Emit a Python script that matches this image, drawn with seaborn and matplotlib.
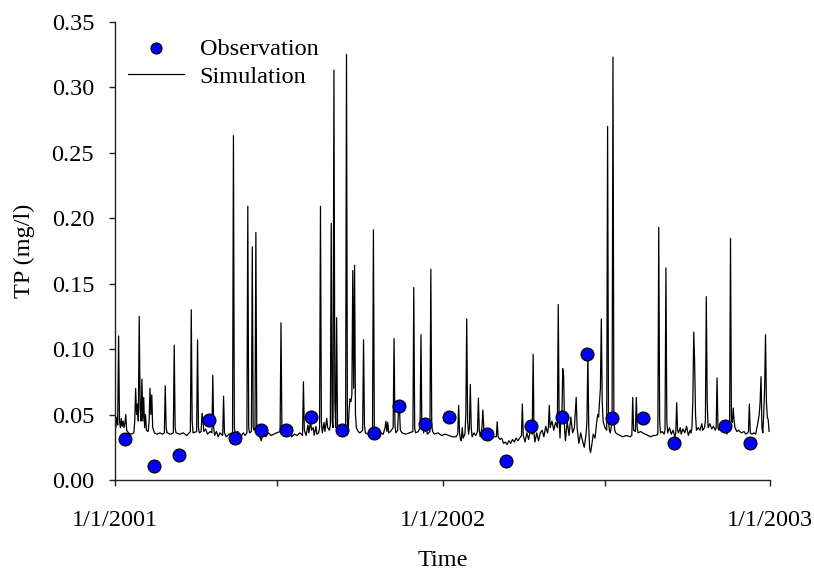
import matplotlib
matplotlib.use("Agg")
import matplotlib.pyplot as plt
import matplotlib.dates as mdates
from matplotlib.ticker import FuncFormatter, FixedLocator
import seaborn as sns
import pandas as pd

# ---------------- data (day offsets from 1/1/2001) ----------------
start = pd.Timestamp("2001-01-01")

obs_days = [11.5, 43, 71, 105, 134, 163, 190.6, 218.4, 253, 288.6, 316.5, 345,
            372.3, 414.6, 435.4, 463.6, 498.5, 526.6, 553.5, 588.5, 623.3, 679.7, 707.7]
obs_vals = [0.031, 0.011, 0.019, 0.046, 0.032, 0.038, 0.038, 0.048, 0.038, 0.036, 0.0565, 0.043,
            0.048, 0.035, 0.0148, 0.041, 0.048, 0.0962, 0.047, 0.047, 0.0285, 0.0415, 0.0285]

sim_days = [
    0, 1, 2, 3, 4, 5, 6, 7, 8, 9, 10, 11, 12, 13, 15, 18, 21, 22, 23, 24,
    25, 26, 27, 28, 29, 30, 31, 32, 33, 34, 35, 37, 38, 39, 40, 41, 42, 44, 47, 50,
    53, 55, 56, 57, 58, 62, 65, 66, 67, 68, 72, 76, 80, 84, 85, 86, 87, 91, 92, 93,
    94, 96, 97, 98, 99, 101, 103, 106, 108, 109, 110, 111, 113, 115, 117, 120, 121, 122, 124, 127,
    131, 132, 133, 134, 137, 140, 143, 145, 147, 148, 149, 150, 152, 153, 154, 155, 156, 157, 158, 159,
    161, 163, 165, 168, 171, 174, 177, 180, 184, 185, 186, 187, 189, 191, 194, 197, 200, 203, 206, 209,
    210, 211, 213, 215, 216, 218, 219, 221, 222, 224, 225, 227, 228, 229, 230, 231, 233, 234, 236, 237,
    239, 240, 241, 242, 243, 244, 245, 246, 247, 248, 249, 252, 255, 257, 258, 259, 260, 261, 262, 263,
    264, 265, 266, 267, 268, 269, 271, 273, 276, 277, 278, 279, 282, 285, 287, 288, 289, 290, 293, 296,
    299, 301, 302, 303, 304, 305, 307, 310, 311, 312, 313, 315, 316, 317, 318, 320, 324, 328, 332, 333,
    334, 335, 338, 340, 341, 342, 343, 344, 345, 346, 347, 348, 351, 352, 353, 354, 356, 360, 364, 368,
    372, 376, 380, 382, 383, 384, 385, 386, 387, 388, 390, 391, 392, 393, 394, 395, 396, 397, 398, 400,
    402, 404, 405, 406, 407, 409, 410, 411, 412, 414, 416, 418, 420, 422, 425, 426, 427, 429, 431, 433,
    435, 437, 439, 441, 443, 445, 447, 449, 451, 453, 454, 455, 457, 459, 461, 463, 464, 465, 466, 467,
    468, 470, 472, 474, 476, 478, 480, 482, 483, 484, 485, 487, 489, 491, 493, 494, 495, 496, 497, 498,
    499, 500, 501, 502, 504, 506, 508, 510, 512, 514, 515, 517, 519, 521, 523, 525, 526, 527, 528, 529,
    530, 531, 533, 535, 537, 538, 539, 540, 541, 542, 543, 544, 546, 548, 549, 550, 551, 552, 553, 554,
    555, 556, 557, 558, 560, 563, 566, 570, 574, 576, 577, 578, 580, 581, 582, 583, 586, 588, 591, 594,
    597, 600, 603, 605, 606, 607, 608, 610, 612, 613, 614, 615, 616, 618, 620, 622, 624, 625, 626, 627,
    628, 630, 631, 633, 635, 637, 639, 641, 642, 643, 644, 645, 646, 647, 648, 650, 652, 654, 655, 657,
    658, 659, 660, 661, 663, 665, 667, 669, 670, 671, 672, 673, 675, 677, 678, 679, 681, 682, 684, 685,
    686, 687, 688, 689, 690, 691, 693, 695, 698, 701, 703, 705, 706, 707, 708, 710, 712, 714, 716, 718,
    719, 720, 721, 722, 723, 724, 725, 726, 727, 728, 729,
]
sim_vals = [
    0.045, 0.040, 0.048, 0.042, 0.110, 0.045, 0.040, 0.047, 0.041, 0.045, 0.040, 0.043, 0.050, 0.038, 0.036, 0.035, 0.036, 0.045, 0.070, 0.050,
    0.058, 0.045, 0.125, 0.055, 0.045, 0.077, 0.045, 0.063, 0.040, 0.050, 0.038, 0.037, 0.045, 0.070, 0.050, 0.065, 0.040, 0.036, 0.035, 0.036,
    0.035, 0.036, 0.072, 0.040, 0.036, 0.035, 0.036, 0.103, 0.040, 0.036, 0.035, 0.036, 0.034, 0.037, 0.130, 0.045, 0.036, 0.037, 0.107, 0.040,
    0.036, 0.037, 0.051, 0.045, 0.037, 0.039, 0.035, 0.037, 0.036, 0.080, 0.040, 0.034, 0.037, 0.033, 0.036, 0.034, 0.064, 0.036, 0.033, 0.035,
    0.036, 0.263, 0.040, 0.036, 0.037, 0.033, 0.036, 0.034, 0.036, 0.209, 0.040, 0.036, 0.037, 0.178, 0.040, 0.038, 0.040, 0.189, 0.042, 0.036,
    0.034, 0.030, 0.035, 0.033, 0.036, 0.034, 0.035, 0.036, 0.037, 0.120, 0.040, 0.036, 0.038, 0.034, 0.036, 0.033, 0.035, 0.034, 0.036, 0.034,
    0.075, 0.038, 0.034, 0.042, 0.036, 0.045, 0.038, 0.040, 0.034, 0.041, 0.035, 0.036, 0.040, 0.209, 0.045, 0.036, 0.044, 0.037, 0.047, 0.040,
    0.038, 0.042, 0.196, 0.045, 0.040, 0.313, 0.060, 0.040, 0.124, 0.040, 0.036, 0.037, 0.036, 0.037, 0.325, 0.045, 0.040, 0.055, 0.062, 0.060,
    0.065, 0.160, 0.070, 0.164, 0.050, 0.040, 0.037, 0.036, 0.038, 0.107, 0.042, 0.036, 0.035, 0.036, 0.037, 0.191, 0.040, 0.036, 0.035, 0.036,
    0.035, 0.040, 0.045, 0.037, 0.044, 0.036, 0.037, 0.040, 0.108, 0.042, 0.036, 0.038, 0.055, 0.056, 0.038, 0.036, 0.035, 0.036, 0.037, 0.147,
    0.040, 0.036, 0.037, 0.040, 0.111, 0.040, 0.045, 0.036, 0.046, 0.037, 0.043, 0.035, 0.037, 0.161, 0.042, 0.037, 0.035, 0.036, 0.034, 0.035,
    0.034, 0.033, 0.033, 0.035, 0.057, 0.036, 0.031, 0.030, 0.040, 0.032, 0.035, 0.050, 0.123, 0.045, 0.035, 0.040, 0.073, 0.040, 0.033, 0.036,
    0.034, 0.037, 0.0625, 0.038, 0.033, 0.040, 0.0535, 0.040, 0.033, 0.036, 0.033, 0.034, 0.032, 0.033, 0.033, 0.0445, 0.033, 0.031, 0.032, 0.028,
    0.029, 0.027, 0.030, 0.028, 0.031, 0.029, 0.032, 0.030, 0.032, 0.034, 0.058, 0.034, 0.029, 0.036, 0.031, 0.038, 0.045, 0.035, 0.096, 0.035,
    0.029, 0.036, 0.030, 0.036, 0.038, 0.033, 0.041, 0.036, 0.040, 0.057, 0.040, 0.045, 0.038, 0.044, 0.040, 0.134, 0.045, 0.032, 0.050, 0.045,
    0.085, 0.080, 0.040, 0.030, 0.045, 0.034, 0.048, 0.036, 0.040, 0.063, 0.040, 0.028, 0.036, 0.030, 0.025, 0.035, 0.045, 0.096, 0.040, 0.024,
    0.021, 0.025, 0.035, 0.032, 0.045, 0.050, 0.048, 0.060, 0.070, 0.123, 0.060, 0.045, 0.040, 0.038, 0.270, 0.045, 0.038, 0.036, 0.040, 0.050,
    0.323, 0.045, 0.038, 0.036, 0.035, 0.034, 0.033, 0.034, 0.033, 0.034, 0.063, 0.038, 0.037, 0.063, 0.040, 0.036, 0.037, 0.036, 0.035, 0.034,
    0.033, 0.034, 0.034, 0.035, 0.193, 0.045, 0.036, 0.037, 0.035, 0.038, 0.162, 0.045, 0.036, 0.040, 0.035, 0.038, 0.033, 0.036, 0.059, 0.038,
    0.036, 0.040, 0.035, 0.039, 0.036, 0.041, 0.034, 0.038, 0.036, 0.040, 0.060, 0.113, 0.090, 0.050, 0.038, 0.040, 0.038, 0.043, 0.038, 0.040,
    0.045, 0.140, 0.060, 0.040, 0.043, 0.039, 0.041, 0.038, 0.040, 0.078, 0.040, 0.038, 0.042, 0.039, 0.045, 0.036, 0.041, 0.035, 0.042, 0.045,
    0.1845, 0.045, 0.044, 0.055, 0.045, 0.040, 0.037, 0.038, 0.036, 0.037, 0.035, 0.036, 0.037, 0.058, 0.036, 0.035, 0.036, 0.035, 0.042, 0.050,
    0.060, 0.079, 0.040, 0.036, 0.050, 0.070, 0.111, 0.060, 0.048, 0.046, 0.037,
]

x_tick_dates = ["2001-01-01", "2002-01-01", "2003-01-01"]
x_minor_dates = ["2001-07-01", "2002-07-01"]
y_ticks = [0.00, 0.05, 0.10, 0.15, 0.20, 0.25, 0.30, 0.35]

# ---------------- build frames ----------------
sim_df = pd.DataFrame({"date": start + pd.to_timedelta(sim_days, unit="D"), "TP": sim_vals})
obs_df = pd.DataFrame({"date": start + pd.to_timedelta(obs_days, unit="D"), "TP": obs_vals})

sns.set_style("ticks")
plt.rcParams["font.family"] = ["Liberation Serif", "DejaVu Serif"]
plt.rcParams["text.color"] = "black"
plt.rcParams["axes.labelcolor"] = "black"
plt.rcParams["xtick.labelcolor"] = "black"
plt.rcParams["ytick.labelcolor"] = "black"
FS = 17.5

fig = plt.figure(figsize=(8.14, 5.74), dpi=100)
ax = fig.add_axes([115 / 814, 1 - 480 / 574, 655 / 814, 458.3 / 574])

sns.lineplot(data=sim_df, x="date", y="TP", ax=ax, color="black", linewidth=0.9,
             estimator=None, sort=False, label="Simulation")
sns.scatterplot(data=obs_df, x="date", y="TP", ax=ax, color="#0000FF", edgecolor="black",
                linewidth=0.9, s=85, zorder=5, label="Observation")

ax.set_xlim(pd.Timestamp(x_tick_dates[0]), pd.Timestamp(x_tick_dates[-1]))
ax.set_ylim(0, 0.35)

major = [mdates.date2num(pd.Timestamp(d)) for d in x_tick_dates]
minor = [mdates.date2num(pd.Timestamp(d)) for d in x_minor_dates]
ax.xaxis.set_major_locator(FixedLocator(major))
ax.xaxis.set_minor_locator(FixedLocator(minor))
ax.xaxis.set_major_formatter(FuncFormatter(
    lambda v, p: (lambda d: f"{d.month}/{d.day}/{d.year}")(mdates.num2date(v))))
ax.set_yticks(y_ticks)
ax.yaxis.set_major_formatter(FuncFormatter(lambda v, p: f"{v:.2f}"))

sns.despine(ax=ax)
for s in ["left", "bottom"]:
    ax.spines[s].set_color("#222222")
    ax.spines[s].set_linewidth(1.0)

ax.tick_params(axis="x", which="both", direction="out", length=4.5, width=1.0,
               color="#222222", labelcolor="black", labelsize=FS, pad=17)
ax.tick_params(axis="y", which="both", direction="out", length=4.5, width=1.0,
               color="#222222", labelcolor="black", labelsize=FS, pad=10.5)

ax.set_xlabel("Time", fontsize=FS, color="black")
ax.set_ylabel("TP (mg/l)", fontsize=FS, color="black")
ax.xaxis.set_label_coords(0.5, -0.152)
ax.yaxis.set_label_coords(-0.122, 0.5)

handles, labels = ax.get_legend_handles_labels()
order = [labels.index("Observation"), labels.index("Simulation")]
leg = ax.legend([handles[i] for i in order], [labels[i] for i in order],
                loc="upper left", bbox_to_anchor=(0.02, 0.965), frameon=False,
                fontsize=FS, handlelength=2.3, handletextpad=0.65, labelspacing=0.25,
                borderpad=0, borderaxespad=0, markerscale=0.85, labelcolor="black")

fig.savefig("out.png", dpi=100)
